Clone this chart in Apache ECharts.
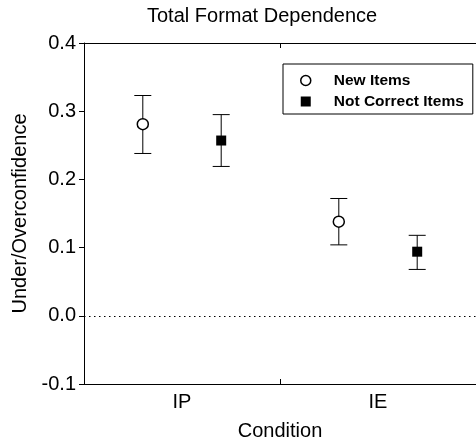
<!DOCTYPE html>
<html>
<head>
<meta charset="utf-8">
<script src="https://cdn.jsdelivr.net/npm/echarts@6/dist/echarts.min.js"></script>
<style>html,body{margin:0;padding:0;background:#fff}#chart{width:476px;height:446px}</style>
</head>
<body>
<div id="chart"></div>
<script>
const categories = ['IP', 'IE'];
const newItemsMean = [0.281, 0.138];
const newItemsLow = [0.238, 0.104];
const newItemsHigh = [0.323, 0.172];
const notCorrectMean = [0.257, 0.094];
const notCorrectLow = [0.219, 0.068];
const notCorrectHigh = [0.295, 0.118];
const seriesNames = ['New Items', 'Not Correct Items'];

const FONT = 'Liberation Sans, Arial, Helvetica, sans-serif';
const OFFSET = 0.2;

function pos(i, side) { return i + 1 + side * OFFSET; }

const newPts = categories.map((c, i) => [pos(i, -1), newItemsMean[i]]);
const ncPts = categories.map((c, i) => [pos(i, 1), notCorrectMean[i]]);
const newErr = categories.map((c, i) => [pos(i, -1), newItemsLow[i], newItemsHigh[i]]);
const ncErr = categories.map((c, i) => [pos(i, 1), notCorrectLow[i], notCorrectHigh[i]]);

function renderErr(params, api) {
  const x = api.value(0);
  const lo = api.coord([x, api.value(1)]);
  const hi = api.coord([x, api.value(2)]);
  const hw = 8.5;
  const st = { stroke: '#000', lineWidth: 1 };
  return {
    type: 'group',
    children: [
      { type: 'line', shape: { x1: lo[0], y1: lo[1], x2: hi[0], y2: hi[1] }, style: st },
      { type: 'line', shape: { x1: lo[0] - hw, y1: lo[1], x2: lo[0] + hw, y2: lo[1] }, style: st },
      { type: 'line', shape: { x1: hi[0] - hw, y1: hi[1], x2: hi[0] + hw, y2: hi[1] }, style: st }
    ]
  };
}

const chart = echarts.init(document.getElementById('chart'));
chart.setOption({
  animation: false,
  backgroundColor: '#fff',
  textStyle: { fontFamily: FONT },
  title: {
    text: 'Total Format Dependence',
    left: 147, top: 6, padding: 0,
    textStyle: { fontFamily: FONT, fontSize: 20, fontWeight: 'normal', color: '#000' }
  },
  legend: {
    orient: 'vertical',
    left: 283, top: 64,
    padding: [8, 9, 4, 17],
    itemGap: 4,
    itemWidth: 10, itemHeight: 10,
    borderColor: '#000', borderWidth: 1,
    textStyle: { fontFamily: FONT, fontSize: 15.5, fontWeight: 'bold', color: '#000', padding: [0, 0, 0, 18], lineHeight: 17 },
    data: [
      { name: seriesNames[0], icon: 'circle', itemStyle: { color: '#fff', borderColor: '#000', borderWidth: 1.5 } },
      { name: seriesNames[1], icon: 'rect', itemStyle: { color: '#000', borderWidth: 0 } }
    ]
  },
  grid: { left: 84, top: 43, right: -7, bottom: 61, containLabel: false },
  xAxis: [
    {
      type: 'category', data: categories, position: 'bottom', boundaryGap: true,
      name: 'Condition', nameLocation: 'middle', nameGap: 37,
      nameTextStyle: { fontFamily: FONT, fontSize: 20, color: '#000' },
      axisLine: { show: true, onZero: false, lineStyle: { color: '#000', width: 1 } },
      axisTick: { show: true, inside: true, length: 5, alignWithLabel: false, lineStyle: { color: '#000', width: 1 } },
      axisLabel: { fontFamily: FONT, fontSize: 20, color: '#000', margin: 8 },
      splitLine: { show: false }
    },
    {
      type: 'category', data: categories, position: 'top', boundaryGap: true,
      axisLine: { show: true, onZero: false, lineStyle: { color: '#000', width: 1 } },
      axisTick: { show: true, inside: true, length: 5, alignWithLabel: false, lineStyle: { color: '#000', width: 1 } },
      axisLabel: { show: false },
      splitLine: { show: false }
    },
    {
      type: 'value', min: 0.5, max: 2.5, show: false, axisLine: { onZero: false }
    }
  ],
  yAxis: {
    type: 'value', min: -0.1, max: 0.4, interval: 0.1,
    name: 'Under/Overconfidence', nameLocation: 'middle', nameGap: 47,
    nameTextStyle: { fontFamily: FONT, fontSize: 20, color: '#000' },
    axisLine: { show: true, onZero: false, lineStyle: { color: '#000', width: 1 } },
    axisTick: { show: true, inside: false, length: 5, lineStyle: { color: '#000' } },
    axisLabel: { fontFamily: FONT, fontSize: 20, color: '#000', margin: 8, formatter: v => v.toFixed(1) },
    splitLine: { show: false }
  },
  series: [
    {
      type: 'custom', name: 'errNew', xAxisIndex: 2, renderItem: renderErr,
      data: newErr, z: 1, silent: true,
      markLine: {
        silent: true, symbol: 'none', label: { show: false },
        lineStyle: { color: '#000', width: 1, type: [1.5, 3.5] },
        emphasis: { disabled: true },
        data: [{ yAxis: 0 }]
      }
    },
    { type: 'custom', name: 'errNC', xAxisIndex: 2, renderItem: renderErr, data: ncErr, z: 1, silent: true },
    {
      type: 'scatter', name: seriesNames[0], xAxisIndex: 2, data: newPts, z: 3,
      symbol: 'circle', symbolSize: 11,
      itemStyle: { color: '#fff', borderColor: '#000', borderWidth: 1.5, opacity: 1 }
    },
    {
      type: 'scatter', name: seriesNames[1], xAxisIndex: 2, data: ncPts, z: 3,
      symbol: 'rect', symbolSize: 10,
      itemStyle: { color: '#000', opacity: 1 }
    }
  ]
});
</script>
</body>
</html>
